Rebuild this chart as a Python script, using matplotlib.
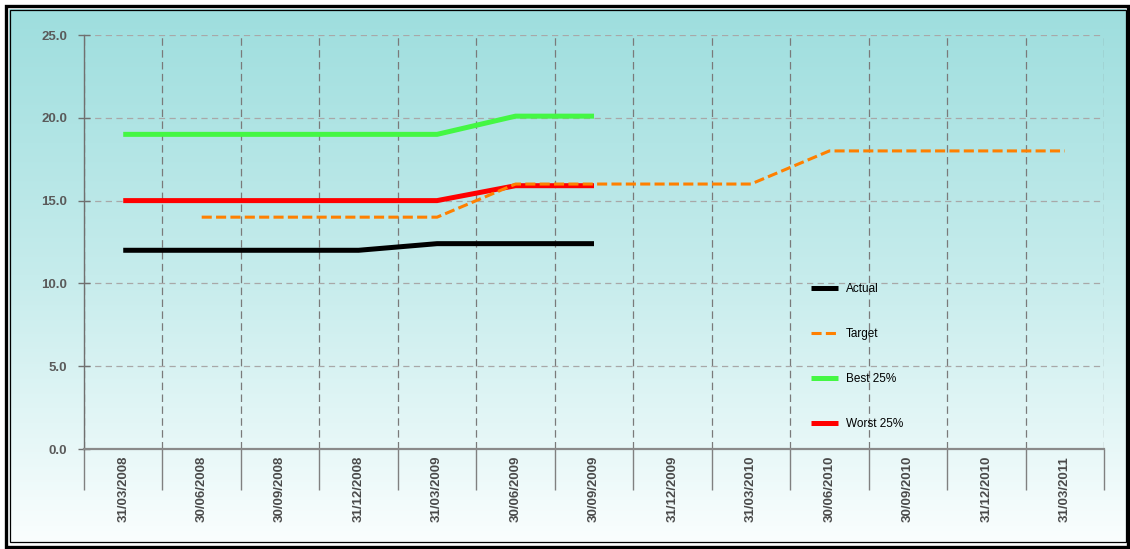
import numpy as np
import matplotlib
matplotlib.use("Agg")
import matplotlib.pyplot as plt
from matplotlib.colors import LinearSegmentedColormap
from matplotlib.patches import Rectangle
from matplotlib.lines import Line2D

plt.rcParams['font.family'] = ['Liberation Sans', 'DejaVu Sans']

# Quarter-end dates
dates = ['31/03/2008', '30/06/2008', '30/09/2008', '31/12/2008', '31/03/2009',
         '30/06/2009', '30/09/2009', '31/12/2009', '31/03/2010', '30/06/2010',
         '30/09/2010', '31/12/2010', '31/03/2011']

nan = np.nan
actual = [12.0, 12.0, 12.0, 12.0, 12.4, 12.4, 12.4, nan, nan, nan, nan, nan, nan]
target = [nan, 14.0, 14.0, 14.0, 14.0, 16.0, 16.0, 16.0, 16.0, 18.0, 18.0, 18.0, 18.0]
best25 = [19.0, 19.0, 19.0, 19.0, 19.0, 20.1, 20.1, nan, nan, nan, nan, nan, nan]
worst25 = [15.0, 15.0, 15.0, 15.0, 15.0, 15.9, 15.9, nan, nan, nan, nan, nan, nan]

y_ticks = [0.0, 5.0, 10.0, 15.0, 20.0, 25.0]

W, H = 1130, 549
fig = plt.figure(figsize=(W / 100, H / 100), dpi=100)
fig.patch.set_facecolor('white')

# Gradient panel behind the chart
bg = fig.add_axes([9 / W, 1 - 542 / H, (1126 - 9) / W, (542 - 9) / H], zorder=0)
cmap = LinearSegmentedColormap.from_list('panel', ['#9edede', '#c6ecec', '#fafefe'])
grad = np.linspace(0, 1, 256).reshape(-1, 1)
bg.imshow(grad, aspect='auto', cmap=cmap, extent=[0, 1, 0, 1], origin='upper')
bg.set_axis_off()

# Double black frame
fig.patches.append(Rectangle((5.5 / W, 1 - 546.5 / H), (1128 - 5.5) / W, (546.5 - 6) / H,
                             transform=fig.transFigure, fill=False, edgecolor='black',
                             linewidth=2.4, zorder=5))
fig.patches.append(Rectangle((9.5 / W, 1 - 541.5 / H), (1126 - 9.5) / W, (541.5 - 9.5) / H,
                             transform=fig.transFigure, fill=False, edgecolor='black',
                             linewidth=0.9, zorder=5))

ax = fig.add_axes([84 / W, 1 - 449 / H, (1104 - 84) / W, (449 - 35) / H], zorder=2)
ax.set_facecolor('none')

x = np.arange(len(dates))
lw = 3.6
ax.plot(x, actual, color='black', linewidth=lw, solid_capstyle='butt', label='Actual', zorder=3)
ax.plot(x, best25, color='#44f744', linewidth=lw, solid_capstyle='butt', label='Best 25%', zorder=3)
ax.plot(x, worst25, color='#ff0000', linewidth=lw, solid_capstyle='butt', label='Worst 25%', zorder=3)
ax.plot(x, target, color='#ff8000', linewidth=2.2, linestyle=(0, (3.3, 1.4)),
        dash_capstyle='butt', label='Target', zorder=4)

ax.set_xlim(-0.5, len(dates) - 0.5)
ax.set_ylim(0, 25)

# Category boundaries as minor ticks with long tick marks below the axis
ax.set_xticks(x)
ax.set_xticklabels(dates, rotation=90, fontsize=9.5, fontweight='bold', color='#4a4a4a')
ax.set_xticks(np.arange(-0.5, len(dates), 1.0), minor=True)
ax.tick_params(axis='x', which='major', length=0, pad=5)
ax.tick_params(axis='x', which='minor', length=29.5, width=1.0, color='#808080', direction='out')

ax.set_yticks(y_ticks)
ax.set_yticklabels([f'{v:.1f}' for v in y_ticks], fontsize=9.5, fontweight='bold', color='#5a5a5a')
ax.tick_params(axis='y', which='major', length=8.5, width=1.0, color='#707070',
               direction='inout', pad=8)

ax.grid(True, axis='x', which='minor', color='#7a7a7a', linestyle=(0, (6, 3.5)), linewidth=0.9)
ax.grid(True, axis='y', which='major', color='#a8a8a8', linestyle=(0, (5, 3.5)), linewidth=0.9)
ax.grid(False, axis='x', which='major')
ax.set_axisbelow(True)

for side in ('top', 'right'):
    ax.spines[side].set_visible(False)
ax.spines['left'].set_color('#707070')
ax.spines['left'].set_linewidth(1.0)
ax.spines['bottom'].set_color('#8a8a8a')
ax.spines['bottom'].set_linewidth(1.6)

handles = [
    Line2D([], [], color='black', linewidth=3.6, solid_capstyle='butt'),
    Line2D([], [], color='#ff8000', linewidth=2.2, linestyle=(0, (3.3, 1.4)), dash_capstyle='butt'),
    Line2D([], [], color='#44f744', linewidth=3.6, solid_capstyle='butt'),
    Line2D([], [], color='#ff0000', linewidth=3.6, solid_capstyle='butt'),
]
labels = ['Actual', 'Target', 'Best 25%', 'Worst 25%']
ax.legend(handles, labels, loc='upper left', bbox_to_anchor=((811 - 84) / 1020, (449 - 283) / 414),
          frameon=False, fontsize=8.5, handlelength=2.3, handletextpad=0.65,
          labelspacing=2.8, borderpad=0, borderaxespad=0)

fig.savefig('out.png', dpi=100)
